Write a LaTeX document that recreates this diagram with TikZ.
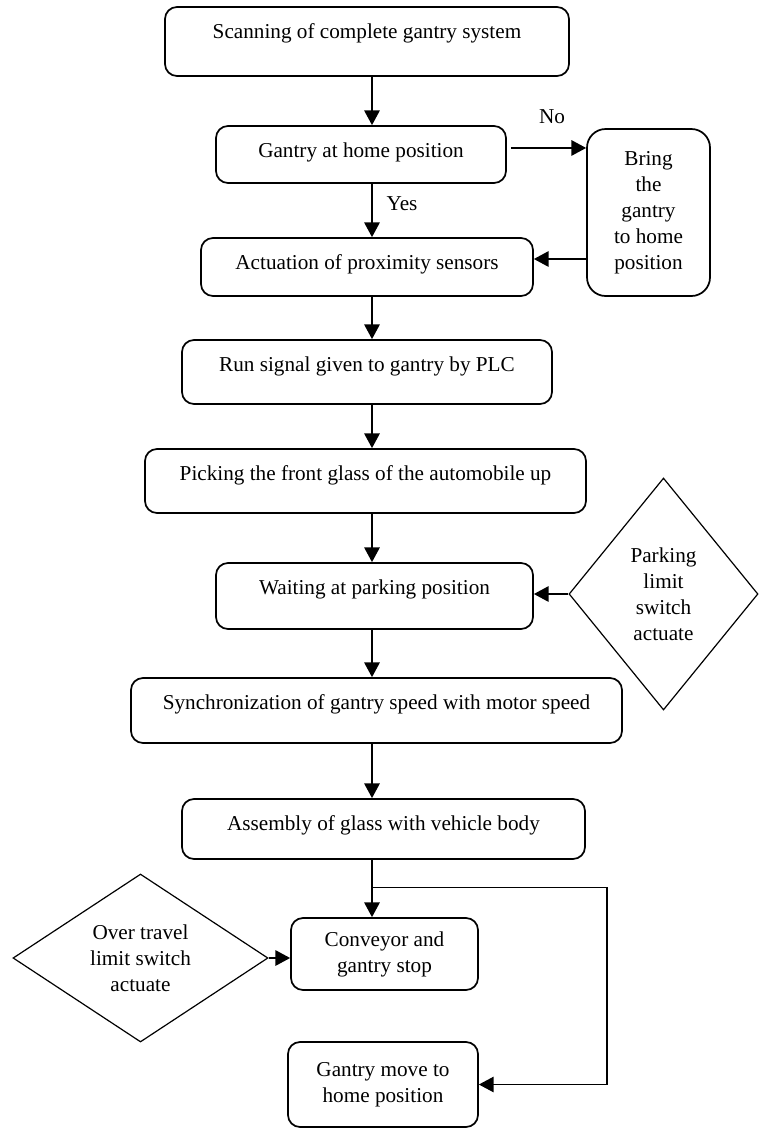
\documentclass[tikz,border=0pt]{standalone}
\usepackage{fontspec}
\setmainfont{Liberation Serif}
\usepackage{tikz}
\usetikzlibrary{arrows.meta,positioning,shapes.geometric}

\begin{document}
\begin{tikzpicture}[
      x=0.75pt,y=-0.75pt,
      font=\fontsize{15.9}{19.5}\selectfont,
      box/.style={draw,line width=1.3pt,rounded corners=9pt,inner sep=0pt,text height=23.5pt},
      tall/.style={draw,line width=1.3pt,rounded corners=9pt,inner sep=0pt,align=center},
      dia/.style={draw,diamond,line width=0.9pt,inner sep=0pt,align=center},
      ar/.style={-{Triangle[length=11pt,width=11.5pt]},line width=1.3pt},
      thinar/.style={ar,line width=0.9pt}]
    \useasboundingbox (0,0) rectangle (763,1129);
    \coordinate (axis) at (372,0);
    \node[box,minimum width=303pt,text depth=28.25pt] (scan) at (367,41.5) {Scanning of complete gantry system};
    \node[box,minimum width=217.5pt,text depth=19.25pt] (gantry) at (361,154.5) {Gantry at home position};
    \node[box,minimum width=249pt,text depth=20pt] (act) at (367,267) {Actuation of proximity sensors};
    \node[box,minimum width=277.5pt,text depth=24.5pt] (run) at (367,372) {Run signal given to gantry by PLC};
    \node[box,minimum width=330.75pt,text depth=24.5pt] (pick) at (365.5,481) {Picking the front glass of the automobile up};
    \node[box,minimum width=237.75pt,text depth=26pt] (wait) at (374.5,596) {Waiting at parking position};
    \node[box,minimum width=368.25pt,text depth=25.25pt] (sync) at (376.5,710.5) {Synchronization of gantry speed with motor speed};
    \node[box,minimum width=302.25pt,text depth=21.5pt] (asm) at (383.5,829) {Assembly of glass with vehicle body};
    \node[tall,minimum width=140.25pt,minimum height=54pt] (conv) at (384.5,954) {Conveyor and\\gantry stop};
    \node[tall,minimum width=142.5pt,minimum height=63.75pt] (gmove) at (383,1084.5) {Gantry move to\\home position};
    \node[tall,rounded corners=14pt,minimum width=92.25pt,minimum height=125.25pt] (bring) at (648.5,212.5) {Bring\\the\\gantry\\to home\\position};
    \node[dia,minimum width=141.75pt,minimum height=174pt] (park) at (663.5,594) {Parking\\limit\\switch\\actuate};
    \node[dia,aspect=1.5,minimum width=191.25pt,minimum height=126pt] (over) at (140.5,958) {Over travel\\limit switch\\actuate};
    \node (no) at (552,117) {No};
    \node (yes) at (402,204) {Yes};
    \draw[ar] (scan.south -| axis) -- (gantry.north -| axis);
    \draw[ar] (gantry.south -| axis) -- (act.north -| axis);
    \draw[ar] (act.south -| axis) -- (run.north -| axis);
    \draw[ar] (run.south -| axis) -- (pick.north -| axis);
    \draw[ar] (pick.south -| axis) -- (wait.north -| axis);
    \draw[ar] (wait.south -| axis) -- (sync.north -| axis);
    \draw[ar] (sync.south -| axis) -- (asm.north -| axis);
    \draw[ar] (asm.south -| axis) -- (conv.north -| axis);
    \coordinate (nofrom) at ([xshift=3pt,yshift=4.9pt]gantry.east);
    \draw[ar] (nofrom) -- (nofrom -| bring.west);
    \coordinate (backto) at ([yshift=6pt]act.east);
    \draw[ar] (backto -| bring.west) -- (backto);
    \draw[ar] (park.west) -- (park.west -| wait.east);
    \draw[ar] (over.east) -- (over.east -| conv.west);
    \draw[thinar] (asm.south -| axis) ++(0,28) -- ++(235,0) |- (gmove.east);
  \end{tikzpicture}
\end{document}
